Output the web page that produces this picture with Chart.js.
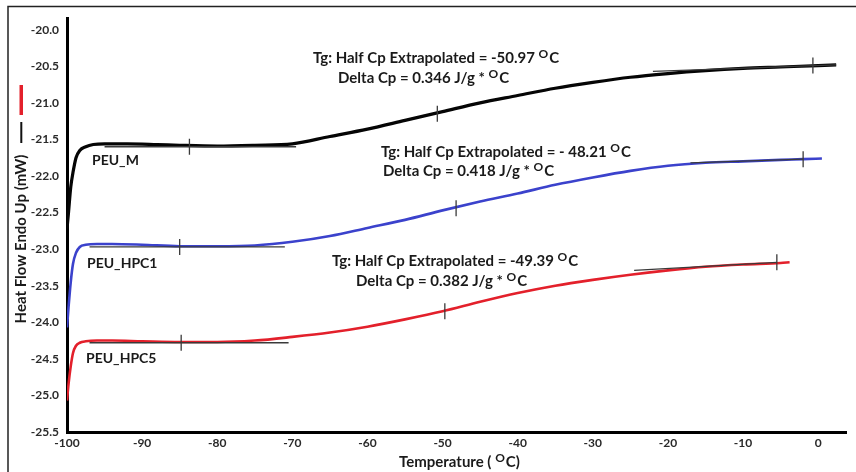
<!DOCTYPE html>
<html><head><meta charset="utf-8">
<script src="https://cdn.jsdelivr.net/npm/chart.js@4"></script>
<style>html,body{margin:0;padding:0;background:#fff}#wrap{width:856px;height:472px;position:relative}canvas{display:block}</style>
</head><body><div id="wrap"><canvas id="c" width="856" height="472"></canvas></div>
<script>
// ---- data ----
const xTicks = [-100, -90, -80, -70, -60, -50, -40, -30, -20, -10, 0];
const yTicks = [-25.5, -25.0, -24.5, -24.0, -23.5, -23.0, -22.5, -22.0, -21.5, -21.0, -20.5, -20.0];

const mTemp = [-100, -99.8, -99.5, -99.2, -98.8, -98.3, -97.5, -96.5, -95, -92, -88, -85, -80, -75, -70, -65, -60, -55, -50, -45, -40, -35, -30, -25, -20, -15, -10, -5, 0, 2.4];
const mHeat = [-22.72, -22.5, -22.15, -21.95, -21.75, -21.65, -21.6, -21.57, -21.56, -21.56, -21.57, -21.58, -21.59, -21.58, -21.56, -21.46, -21.36, -21.24, -21.12, -21.0, -20.9, -20.8, -20.72, -20.65, -20.6, -20.56, -20.53, -20.51, -20.49, -20.48];

const h1Temp = [-100, -99.8, -99.5, -99.2, -98.8, -98.3, -97.5, -96, -94, -90, -85, -80, -75, -70, -65, -60, -55, -50, -45, -40, -35, -30, -25, -20, -15, -10, -5, -2, 0.5];
const h1Heat = [-24.07, -23.8, -23.45, -23.2, -23.05, -22.97, -22.94, -22.93, -22.93, -22.94, -22.96, -22.96, -22.95, -22.9, -22.82, -22.71, -22.6, -22.47, -22.35, -22.24, -22.12, -22.02, -21.93, -21.86, -21.82, -21.8, -21.78, -21.77, -21.76];

const h5Temp = [-100, -99.8, -99.5, -99.2, -98.8, -98.3, -97.5, -96, -94, -90, -85, -80, -75, -70, -65, -60, -55, -50, -45, -40, -35, -30, -25, -20, -15, -10, -5, -3.8];
const h5Heat = [-25.07, -24.85, -24.6, -24.42, -24.32, -24.28, -24.26, -24.25, -24.25, -24.26, -24.27, -24.27, -24.25, -24.2, -24.14, -24.06, -23.96, -23.85, -23.72, -23.6, -23.5, -23.42, -23.35, -23.29, -23.24, -23.21, -23.19, -23.18];

// tangent (extrapolation) lines and markers
const mBaseTemp = [-95, -69.5];   const mBaseHeat = [-21.6, -21.6];
const mTopTemp = [-22, 2.4];      const mTopHeat = [-20.57, -20.48];
const mMarkTemp = [-83.7, -50.7, -0.7]; const mMarkHeat = [-21.6, -21.15, -20.49];

const h1BaseTemp = [-97, -71];    const h1BaseHeat = [-22.97, -22.97];
const h1TopTemp = [-17, -2];      const h1TopHeat = [-21.82, -21.77];
const h1MarkTemp = [-85, -48.2, -2]; const h1MarkHeat = [-22.97, -22.44, -21.77];

const h5BaseTemp = [-97, -70.5];  const h5BaseHeat = [-24.28, -24.28];
const h5TopTemp = [-24.5, -5.5];  const h5TopHeat = [-23.29, -23.18];
const h5MarkTemp = [-84.8, -49.7, -5.5]; const h5MarkHeat = [-24.28, -23.85, -23.18];

const seriesNames = ['PEU_M', 'PEU_HPC1', 'PEU_HPC5'];
const tgLines = ['Tg: Half Cp Extrapolated = -50.97 ', 'Tg: Half Cp Extrapolated = - 48.21 ', 'Tg: Half Cp Extrapolated = -49.39 '];
const cpLines = ['Delta Cp = 0.346 J/g * ', 'Delta Cp = 0.418 J/g * ', 'Delta Cp = 0.382 J/g * '];
const yTitle = 'Heat Flow Endo Up (mW)';
const xTitlePre = 'Temperature ( ';
const xTitlePost = 'C)';

// ---- helpers ----
const pts = (xs, ys) => xs.map((x, i) => ({x, y: ys[i]}));
const FONT = "Lato, 'Open Sans', sans-serif";
const TXT = '#1a1a1a';
const TAN = '#3a3a3a';

function tanDs(xs, ys) {
  return {data: pts(xs, ys), borderColor: TAN, borderWidth: 1.3, pointRadius: 0, fill: false, tension: 0};
}
function markDs(xs, ys) {
  return {data: pts(xs, ys), showLine: false, pointStyle: 'line', rotation: 90, pointRadius: 8,
    borderColor: TAN, pointBorderColor: TAN, pointBorderWidth: 1.3, backgroundColor: TAN};
}
function curveDs(xs, ys, color, w) {
  return {data: pts(xs, ys), borderColor: color, borderWidth: w, pointRadius: 0, fill: false, tension: 0.35, cubicInterpolationMode: 'monotone'};
}

function supText(ctx, x, y, pre, post, size) {
  ctx.font = `bold ${size}px ${FONT}`;
  ctx.fillText(pre, x, y);
  let w = ctx.measureText(pre).width;
  ctx.font = `bold ${Math.round(size * 0.78)}px ${FONT}`;
  ctx.fillText('O', x + w, y - size * 0.28);
  w += ctx.measureText('O').width + 1;
  ctx.font = `bold ${size}px ${FONT}`;
  ctx.fillText(post, x + w, y);
}

const deco = {
  id: 'deco',
  afterDraw(chart) {
    const ctx = chart.ctx;
    ctx.save();
    // frame
    ctx.strokeStyle = '#222'; ctx.lineWidth = 1.5;
    ctx.beginPath(); ctx.moveTo(8, 472); ctx.lineTo(8, 6.5); ctx.lineTo(856, 6.5); ctx.stroke();
    // y title
    ctx.fillStyle = TXT; ctx.textBaseline = 'middle';
    ctx.save(); ctx.translate(21, 239); ctx.rotate(-Math.PI / 2);
    ctx.font = `bold 15px ${FONT}`; ctx.textAlign = 'center';
    ctx.fillText(yTitle, 0, 0);
    ctx.restore();
    // legend markers beside the title
    ctx.fillStyle = '#e3202b'; ctx.fillRect(19.5, 85, 3.5, 30);
    ctx.fillStyle = '#111'; ctx.fillRect(20.3, 122, 2, 21);
    // x title
    ctx.fillStyle = TXT; ctx.textAlign = 'left';
    supText(ctx, 399, 462, xTitlePre, xTitlePost, 15);
    // annotations
    const ann = [[313, 58, 338, 78], [381, 152, 383, 171], [332, 261, 356, 281]];
    ann.forEach((a, i) => {
      supText(ctx, a[0], a[1], tgLines[i], 'C', 15);
      supText(ctx, a[2], a[3], cpLines[i], 'C', 15);
    });
    // series labels
    ctx.font = `bold 14px ${FONT}`;
    ctx.fillText(seriesNames[0], 92, 160);
    ctx.fillText(seriesNames[1], 87, 263);
    ctx.fillText(seriesNames[2], 86, 358);
    ctx.restore();
  }
};

new Chart(document.getElementById('c'), {
  type: 'line',
  data: {
    datasets: [
      tanDs(mBaseTemp, mBaseHeat), tanDs(mTopTemp, mTopHeat), markDs(mMarkTemp, mMarkHeat),
      tanDs(h1BaseTemp, h1BaseHeat), tanDs(h1TopTemp, h1TopHeat), markDs(h1MarkTemp, h1MarkHeat),
      tanDs(h5BaseTemp, h5BaseHeat), tanDs(h5TopTemp, h5TopHeat), markDs(h5MarkTemp, h5MarkHeat),
      curveDs(mTemp, mHeat, '#050505', 3.2),
      curveDs(h1Temp, h1Heat, '#3b42cc', 2.6),
      curveDs(h5Temp, h5Heat, '#e3202b', 2.6)
    ]
  },
  options: {
    responsive: false, animation: false, devicePixelRatio: 1,
    layout: {padding: {left: 0, top: 18, right: 5, bottom: 0}},
    plugins: {legend: {display: false}, tooltip: {enabled: false}},
    scales: {
      x: {
        type: 'linear', min: -100, max: 3.8,
        afterBuildTicks: s => { s.ticks = xTicks.map(v => ({value: v})); },
        afterFit: s => { s.height = 40; },
        grid: {display: false, drawTicks: false},
        border: {display: true, color: '#000', width: 3},
        ticks: {padding: 4, color: '#2a2a2a', font: {family: FONT, size: 12, weight: 'bold'}, callback: v => String(v), maxRotation: 0}
      },
      y: {
        type: 'linear', min: -25.5, max: -19.84,
        afterBuildTicks: s => { s.ticks = yTicks.map(v => ({value: v})); },
        afterFit: s => { s.width = 67; },
        grid: {display: false, drawTicks: false},
        border: {display: true, color: '#000', width: 3},
        ticks: {padding: 8, color: '#2a2a2a', font: {family: FONT, size: 12, weight: 'bold'}, callback: v => v.toFixed(1)}
      }
    }
  },
  plugins: [deco]
});
</script>
</body></html>
